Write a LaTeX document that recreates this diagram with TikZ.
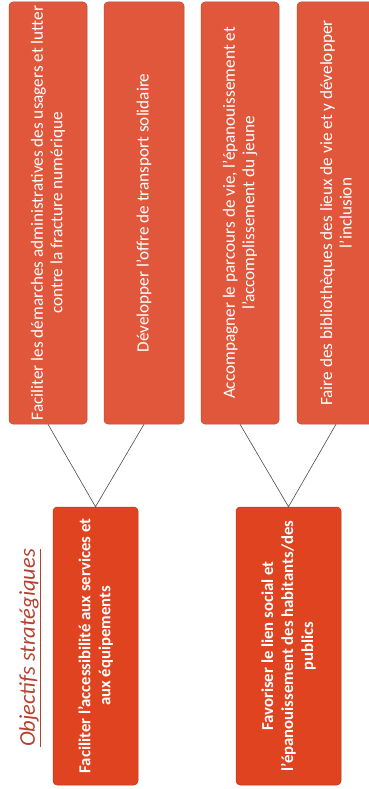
\documentclass[tikz,border=0pt]{standalone}
\usepackage{fontspec}
\setmainfont{Carlito}
\definecolor{leafred}{HTML}{E0573C}
\definecolor{rootred}{HTML}{DF431F}
\definecolor{titlered}{HTML}{B8402E}
\definecolor{linkgray}{HTML}{4A4A4A}
\begin{document}
\begin{tikzpicture}[x=1pt,y=-1pt,
  leaf/.style={rotate=90, fill=leafred, draw=leafred!85!black, line width=0.5pt,
    rounded corners=4pt, inner sep=0pt, align=center, text=white,
    font=\fontsize{17.2}{19.5}\selectfont},
  root/.style={rotate=90, fill=rootred, draw=rootred!85!black, line width=0.5pt,
    rounded corners=4pt, inner sep=0pt, align=center, text=white,
    font=\bfseries\fontsize{16.7}{20}\selectfont},
  link/.style={draw=linkgray, line width=0.6pt}]
\useasboundingbox (0,0) rectangle (368,789);
% top boxes
\node[leaf, minimum width=422pt, minimum height=78pt] (l1) at (48,213)
  {Faciliter les démarches administratives des usagers et lutter\\contre la fracture numérique};
\node[leaf, minimum width=422pt, minimum height=80pt] (l2) at (144,213)
  {Développer l'offre de transport solidaire};
\node[leaf, minimum width=422pt, minimum height=78pt] (l3) at (240,213)
  {Accompagner le parcours de vie, l'épanouissement et\\l'accomplissement du jeune};
\node[leaf, minimum width=422pt, minimum height=78pt] (l4) at (336,213)
  {Faire des bibliothèques des lieux de vie et y développer\\l'inclusion};
% bottom boxes
\node[root, minimum width=278pt, minimum height=85pt] (r1) at (95.5,646)
  {Faciliter l'accessibilité aux services et\\aux équipements};
\node[root, minimum width=278pt, minimum height=105pt] (r2) at (288.5,646)
  {Favoriser le lien social et\\l'épanouissement des habitants/des\\publics};
% title
\node[rotate=90, text=titlered, font=\itshape\fontsize{22.5}{26}\selectfont, inner sep=0pt] (title) at (30,648)
  {\underline{Objectifs stratégiques}};
% connectors
\draw[link] (l1.west) -- (r1.east) -- (l2.west);
\draw[link] (l3.west) -- (r2.east) -- (l4.west);
\end{tikzpicture}
\end{document}
